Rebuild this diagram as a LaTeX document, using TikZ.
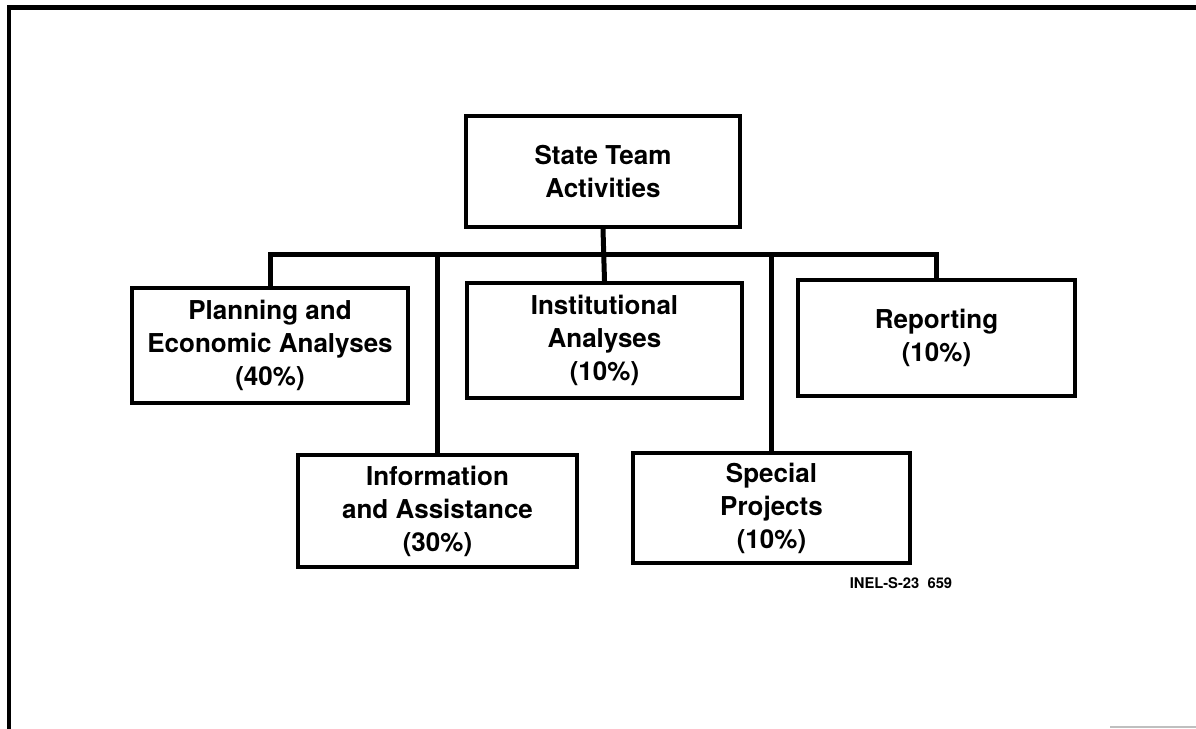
\documentclass[tikz,border=0pt]{standalone}
\usepackage{fontspec}
\setmainfont{TeX Gyre Heros}
\begin{document}
\begin{tikzpicture}[x=0.02cm, y=-0.02cm,
    every node/.style={rectangle, draw, line width=0.085cm, align=center, inner sep=0pt,
      font=\bfseries\fontsize{14.8}{18.8}\selectfont},
    link/.style={line width=0.1cm}]
      \useasboundingbox (0,0) rectangle (1196,729);
      \draw[link] (1196,8) -- (9,8) -- (9,729);
      \draw[gray!50, line width=0.03cm] (1110,727) -- (1196,727);
      \node (state) at (603,171.5) [minimum width=5.48cm, minimum height=2.22cm] {State Team\\Activities};
      \node (plan) at (270,345.5) [minimum width=5.52cm, minimum height=2.30cm] {Planning and\\Economic Analyses\\(40\%)};
      \node (inst) at (604.5,340.5) [minimum width=5.50cm, minimum height=2.30cm] {Institutional\\Analyses\\(10\%)};
      \node (report) at (936.5,338) [minimum width=5.54cm, minimum height=2.32cm] {Reporting\\(10\%)};
      \node (info) at (437.5,511) [minimum width=5.58cm, minimum height=2.24cm] {Information\\and Assistance\\(30\%)};
      \node (spec) at (771.5,508) [minimum width=5.54cm, minimum height=2.20cm] {Special\\Projects\\(10\%)};
      \node (tag) at (901,583) [draw=none, font=\bfseries\fontsize{8.4}{10}\selectfont] {INEL-S-23\ \ 659};
      \coordinate (bus) at (603,255);
      \draw[link] (state.south) -- (inst.north);
      \draw[link] (plan.north) -- (plan.north |- bus) -- (report.north |- bus) -- (report.north);
      \foreach \child in {info, spec}
        \draw[link] (\child.north) -- (\child.north |- bus);
    \end{tikzpicture}
\end{document}
